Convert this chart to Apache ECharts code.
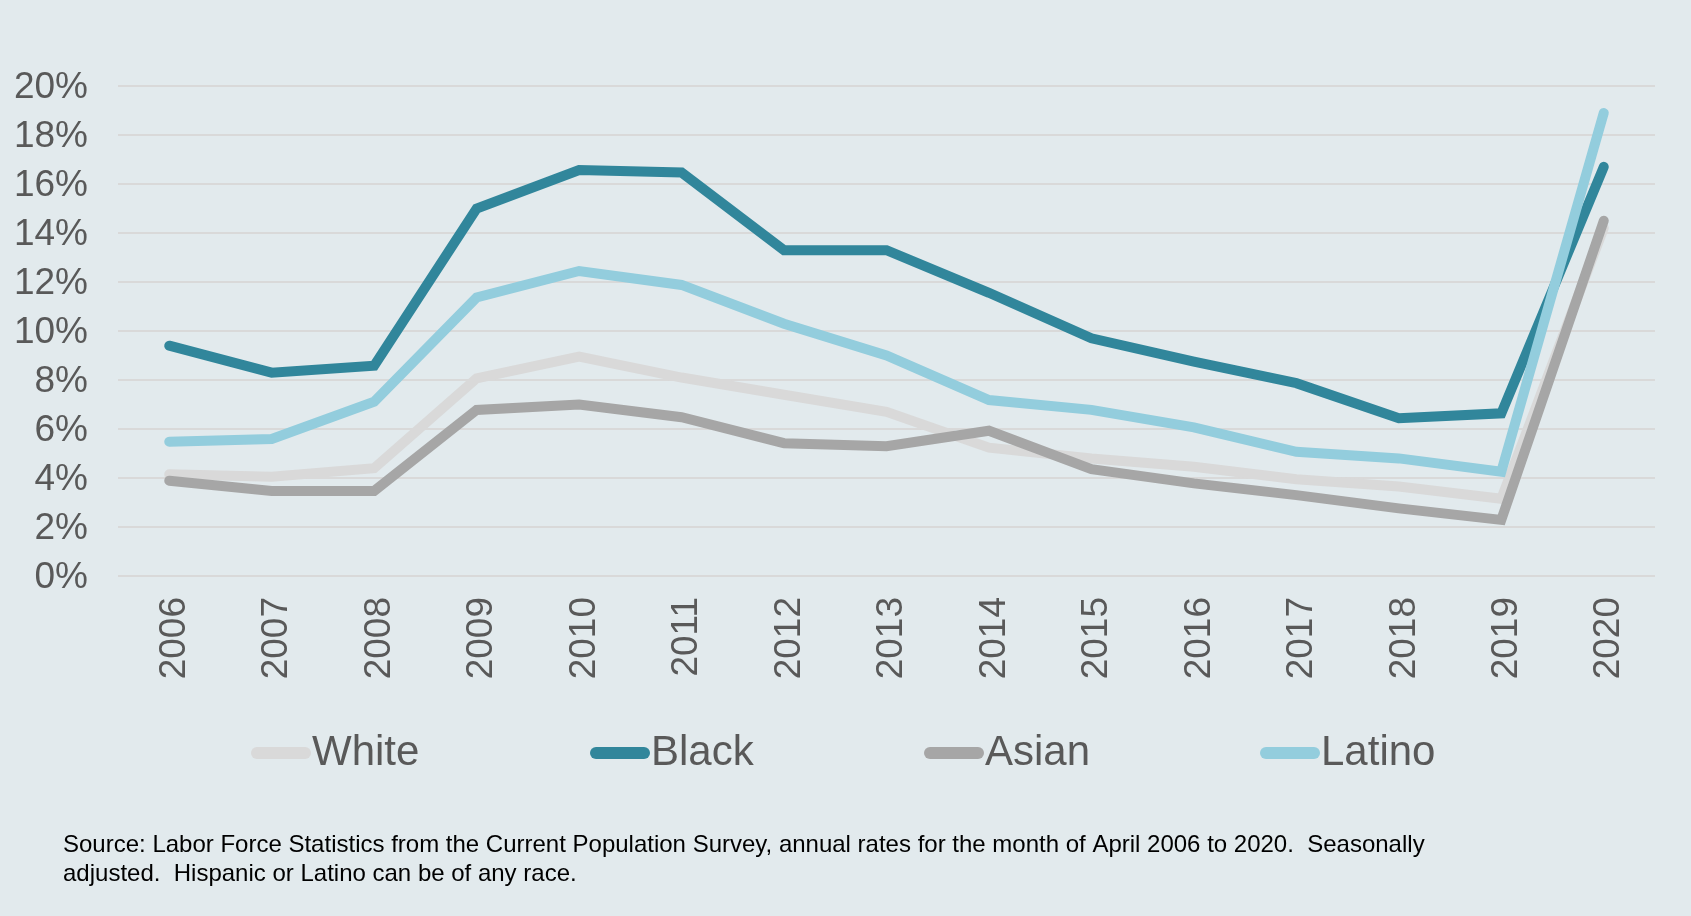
<!DOCTYPE html>
<html>
<head>
<meta charset="utf-8">
<script src="https://cdn.jsdelivr.net/npm/echarts@6/dist/echarts.min.js"></script>
<style>
html,body{margin:0;padding:0;background:#E2EAED;}
#chart{width:1691px;height:916px;}
</style>
</head>
<body>
<div id="chart"></div>
<script>
const years = ['2006','2007','2008','2009','2010','2011','2012','2013','2014','2015','2016','2017','2018','2019','2020'];
const white  = [4.15, 4.05, 4.4, 8.07, 8.95, 8.1, 7.4, 6.7, 5.24, 4.8, 4.46, 3.95, 3.65, 3.15, 14.2];
const black  = [9.4, 8.3, 8.58, 15.0, 16.57, 16.47, 13.3, 13.3, 11.56, 9.7, 8.75, 7.87, 6.44, 6.64, 16.7];
const asian  = [3.89, 3.47, 3.47, 6.78, 7.0, 6.48, 5.42, 5.3, 5.93, 4.36, 3.78, 3.3, 2.76, 2.29, 14.5];
const latino = [5.48, 5.59, 7.11, 11.37, 12.45, 11.88, 10.3, 9.0, 7.18, 6.78, 6.07, 5.07, 4.8, 4.26, 18.9];
const seriesNames = ['White','Black','Asian','Latino'];
const colors = ['#D9D9D9','#31869B','#A6A6A6','#93CDDD'];
const sourceText = 'Source: Labor Force Statistics from the Current Population Survey, annual rates for the month of April 2006 to 2020.  Seasonally\nadjusted.  Hispanic or Latino can be of any race.';

const dataSets = [white, black, asian, latino];
const FONT = '"Liberation Sans", Arial, sans-serif';
const legendLefts = [251, 590, 924, 1260];

const chart = echarts.init(document.getElementById('chart'));
chart.setOption({
  backgroundColor: '#E2EAED',
  animation: false,
  color: colors,
  textStyle: {fontFamily: FONT},
  grid: {left: 118, right: 36, top: 86, bottom: 340, containLabel: false},
  legend: seriesNames.map((n, i) => ({
    data: [n],
    left: legendLefts[i],
    top: 732,
    icon: 'path://M6,0 L54,0 A6,6 0 0 1 54,12 L6,12 A6,6 0 0 1 6,0 Z',
    itemWidth: 60,
    itemHeight: 12,
    itemGap: 0,
    padding: 0,
    textStyle: {fontSize: 42, color: '#595959', fontFamily: FONT, padding: [0,0,0,-4]}
  })),
  xAxis: {
    type: 'category',
    data: years,
    boundaryGap: true,
    axisLine: {show: false},
    axisTick: {show: false},
    axisLabel: {rotate: 90, fontSize: 37, color: '#595959', margin: 21, fontFamily: FONT, verticalAlign: 'top', lineHeight: 11}
  },
  yAxis: {
    type: 'value',
    min: 0, max: 20, interval: 2,
    axisLine: {show: false},
    axisTick: {show: false},
    axisLabel: {fontSize: 37, color: '#595959', margin: 30, fontFamily: FONT, verticalAlign: 'top', lineHeight: 4, formatter: v => v + '%'},
    splitLine: {lineStyle: {color: '#D9D9D9', width: 2}}
  },
  graphic: [{
    type: 'text',
    left: 63,
    top: 831,
    style: {text: sourceText, fontSize: 24, lineHeight: 29, fill: '#000000', fontFamily: FONT}
  }],
  series: seriesNames.map((n, i) => ({
    name: n,
    type: 'line',
    data: dataSets[i],
    symbol: 'none',
    lineStyle: {width: 10, color: colors[i], cap: 'round', join: 'miter'},
    itemStyle: {color: colors[i]},
    z: 2 + i
  }))
});
</script>
</body>
</html>
